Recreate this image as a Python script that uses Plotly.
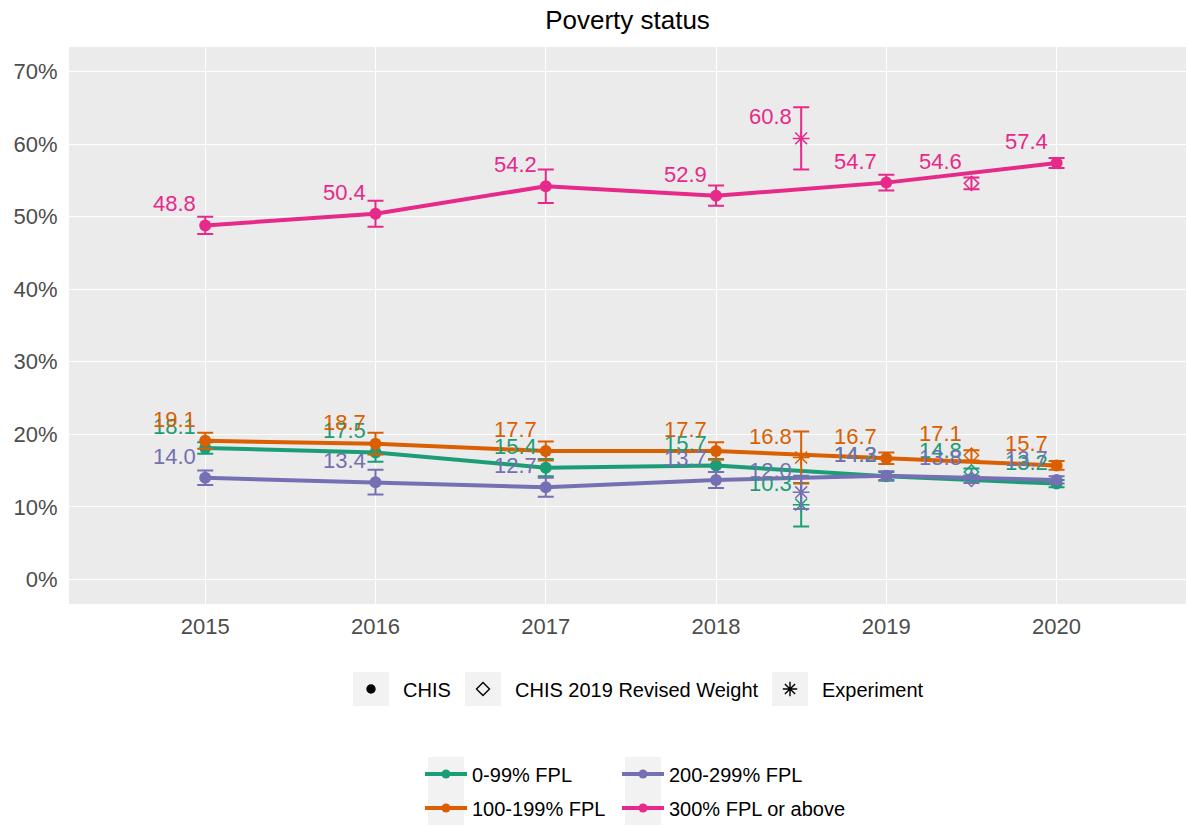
import plotly.graph_objects as go

# ---- data -------------------------------------------------------------
years = [2015, 2016, 2017, 2018, 2019, 2020]
groups = ["0-99% FPL", "100-199% FPL", "200-299% FPL", "300% FPL or above"]
colors = ["#1B9E77", "#D95F02", "#7570B3", "#E7298A"]

# CHIS estimates (%) and 95% CI half-widths
chis_0_99 = [18.1, 17.5, 15.4, 15.7, 14.2, 13.2]
chis_0_99_ci = [0.8, 1.3, 1.2, 0.9, 0.6, 0.5]
chis_100_199 = [19.1, 18.7, 17.7, 17.7, 16.7, 15.7]
chis_100_199_ci = [1.1, 1.5, 1.3, 1.2, 0.8, 0.6]
chis_200_299 = [14.0, 13.4, 12.7, 13.7, 14.3, 13.7]
chis_200_299_ci = [1.0, 1.7, 1.3, 1.1, 0.6, 0.5]
chis_300_plus = [48.8, 50.4, 54.2, 52.9, 54.7, 57.4]
chis_300_plus_ci = [1.2, 1.8, 2.3, 1.4, 1.1, 0.7]

# CHIS 2019 revised weight (plotted half a year after 2019)
revised_x = 2019.5
revised_vals = [14.8, 17.1, 13.8, 54.6]
revised_ci = [0.5, 0.7, 0.5, 0.8]

# Experiment (plotted between 2018 and 2019)
experiment_x = 2018.5
experiment_vals = [10.3, 16.8, 12.0, 60.8]
experiment_ci = [3.0, 3.6, 2.3, 4.3]

chis_vals = [chis_0_99, chis_100_199, chis_200_299, chis_300_plus]
chis_ci = [chis_0_99_ci, chis_100_199_ci, chis_200_299_ci, chis_300_plus_ci]

shape_names = ["CHIS", "CHIS 2019 Revised Weight", "Experiment"]
shape_symbols = ["circle", "diamond-open", "asterisk-open"]
shape_sizes = [8, 10, 12]

y_ticks = [0, 10, 20, 30, 40, 50, 60, 70]

# ---- layout constants --------------------------------------------------
W, H = 1188, 826
ML, MR, MT, MB = 69, 2, 47, 222
FONT = "Liberation Sans, Arial, sans-serif"
LABEL_SIZE = 22
KEY_BG = "#F2F2F2"
KEY_W, KEY_H = 36, 34

fig = go.Figure()
labels = []


def err(arr, col):
    return dict(type="data", array=arr, visible=True, thickness=2,
                width=8, color=col)


def add_labels(xs, ys, col):
    for xv, yv in zip(xs, ys):
        labels.append(dict(
            x=xv, y=yv, text=f"{yv:.1f}", showarrow=False,
            xanchor="right", yanchor="bottom", xshift=-7, yshift=7,
            font=dict(family=FONT, size=LABEL_SIZE, color=col),
        ))


for g, col, vals, ci, rv, rci, ev, eci in zip(
    groups, colors, chis_vals, chis_ci, revised_vals, revised_ci,
    experiment_vals, experiment_ci,
):
    # experiment point
    fig.add_trace(go.Scatter(
        x=[experiment_x], y=[ev], mode="markers",
        marker=dict(symbol="asterisk-open", size=14, color=col,
                    line=dict(color=col, width=1.5)),
        error_y=err([eci], col), showlegend=False, hoverinfo="skip",
    ))
    add_labels([experiment_x], [ev], col)
    # revised-weight point
    fig.add_trace(go.Scatter(
        x=[revised_x], y=[rv], mode="markers",
        marker=dict(symbol="diamond-open", size=11, color=col,
                    line=dict(color=col, width=1.5)),
        error_y=err([rci], col), showlegend=False, hoverinfo="skip",
    ))
    add_labels([revised_x], [rv], col)
    # CHIS series
    fig.add_trace(go.Scatter(
        x=years, y=vals, mode="lines+markers",
        line=dict(color=col, width=4),
        marker=dict(symbol="circle", size=12, color=col),
        error_y=err(ci, col), showlegend=False, hoverinfo="skip",
    ))
    add_labels(years, vals, col)


# ---- legends: one single-entry legend per key --------------------------
legend_layouts = {}
key_boxes = []

# key centres (px)
shape_key_pos = [(371, 689), (483, 689), (790, 689)]
colour_key_pos = {0: (446, 774), 2: (643, 774), 1: (446, 808), 3: (643, 808)}


def make_legend(idx, cx, cy, itemwidth):
    name = "legend" if idx == 1 else f"legend{idx}"
    offset = itemwidth / 2 + 5  # legend left edge -> key centre
    legend_layouts[name] = dict(
        orientation="h", xref="container", yref="container",
        x=(cx - offset) / W, y=1 - cy / H,
        xanchor="left", yanchor="middle",
        font=dict(family=FONT, size=20, color="black"),
        bgcolor="rgba(0,0,0,0)", itemwidth=itemwidth,
    )
    key_boxes.append((cx, cy))
    return name


li = 1
for name, sym, sz, (cx, cy) in zip(shape_names, shape_symbols, shape_sizes,
                                   shape_key_pos):
    lg = make_legend(li, cx, cy, 54)
    li += 1
    fig.add_trace(go.Scatter(
        x=[None], y=[None], mode="markers", name=name,
        marker=dict(symbol=sym, size=sz, color="black",
                    line=dict(color="black", width=1.4)),
        legend=lg,
    ))

for i in [0, 2, 1, 3]:
    cx, cy = colour_key_pos[i]
    lg = make_legend(li, cx, cy, 42)
    li += 1
    fig.add_trace(go.Scatter(
        x=[None], y=[None], mode="lines+markers", name=groups[i],
        line=dict(color=colors[i], width=4),
        marker=dict(symbol="circle", size=9, color=colors[i]),
        legend=lg,
    ))

# grey key backgrounds, placed in paper coordinates
PW, PH = W - ML - MR, H - MT - MB
shapes = []
for cx, cy in key_boxes:
    shapes.append(dict(
        type="rect", xref="paper", yref="paper", layer="below",
        x0=(cx - KEY_W / 2 - ML) / PW, x1=(cx + KEY_W / 2 - ML) / PW,
        y0=(H - MB - (cy + KEY_H / 2)) / PH,
        y1=(H - MB - (cy - KEY_H / 2)) / PH,
        fillcolor=KEY_BG, line=dict(width=0),
    ))

fig.update_layout(
    width=W, height=H,
    margin=dict(l=ML, r=MR, t=MT, b=MB),
    paper_bgcolor="white", plot_bgcolor="#EBEBEB",
    font=dict(family=FONT, size=22, color="#4D4D4D"),
    title=dict(text="Poverty status", x=0.5, xref="paper",
               y=1 - 20 / H, yref="container", yanchor="middle",
               font=dict(family=FONT, size=26, color="black")),
    xaxis=dict(range=[2014.2, 2020.76], tickvals=years,
               ticktext=[str(y) for y in years],
               showgrid=True, gridcolor="white", gridwidth=1,
               zeroline=False, showline=False,
               ticks="outside", ticklen=3, tickcolor="rgba(0,0,0,0)",
               tickfont=dict(size=22, color="#4D4D4D")),
    yaxis=dict(range=[-3.4, 73.4], tickvals=y_ticks,
               ticktext=[f"{t}%" for t in y_ticks],
               showgrid=True, gridcolor="white", gridwidth=1,
               zeroline=False, showline=False,
               ticks="outside", ticklen=6, tickcolor="rgba(0,0,0,0)",
               tickfont=dict(size=22, color="#4D4D4D")),
    annotations=labels,
    shapes=shapes,
    **legend_layouts,
)

fig.write_html("out.html")
